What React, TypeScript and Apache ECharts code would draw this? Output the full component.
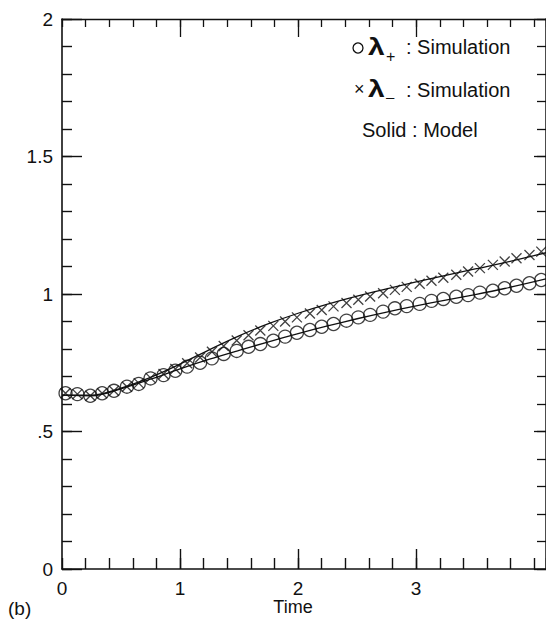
import React, { useEffect, useRef } from 'react';
import * as echarts from 'echarts';

// Simulation sample times
const timeSim = [0.03, 0.13, 0.24, 0.34, 0.44, 0.55, 0.65, 0.75, 0.86, 0.96, 1.06, 1.17, 1.27, 1.37, 1.48, 1.58, 1.68, 1.79, 1.89, 1.99, 2.10, 2.20, 2.30, 2.41, 2.51, 2.61, 2.72, 2.82, 2.92, 3.03, 3.13, 3.23, 3.34, 3.44, 3.54, 3.65, 3.75, 3.85, 3.96, 4.06];
// lambda+ simulation (circles)
const lamPlusSim = [0.639, 0.636, 0.630, 0.639, 0.648, 0.663, 0.673, 0.693, 0.705, 0.721, 0.736, 0.750, 0.766, 0.782, 0.793, 0.808, 0.818, 0.830, 0.845, 0.859, 0.869, 0.881, 0.891, 0.903, 0.915, 0.924, 0.936, 0.948, 0.956, 0.964, 0.975, 0.982, 0.990, 0.996, 1.005, 1.012, 1.021, 1.030, 1.039, 1.051];
// lambda- simulation (crosses)
const lamMinusSim = [0.639, 0.636, 0.630, 0.639, 0.648, 0.663, 0.676, 0.695, 0.709, 0.727, 0.748, 0.769, 0.790, 0.811, 0.831, 0.850, 0.867, 0.884, 0.900, 0.915, 0.929, 0.942, 0.955, 0.967, 0.979, 0.991, 1.003, 1.015, 1.026, 1.037, 1.048, 1.059, 1.070, 1.082, 1.094, 1.106, 1.118, 1.130, 1.142, 1.154];
// Model curves (solid)
const modelTime = [0, 0.25, 0.5, 0.75, 1.0, 1.25, 1.5, 1.75, 2.0, 2.25, 2.5, 2.75, 3.0, 3.25, 3.5, 3.75, 4.1];
const modelPlus = [0.632, 0.630, 0.655, 0.690, 0.728, 0.763, 0.795, 0.826, 0.856, 0.884, 0.910, 0.934, 0.957, 0.978, 0.998, 1.020, 1.055];
const modelMinus = [0.632, 0.632, 0.658, 0.697, 0.745, 0.798, 0.848, 0.892, 0.930, 0.963, 0.992, 1.019, 1.044, 1.068, 1.091, 1.114, 1.150];

// Axis ticks and labels
const xLabelValues = [0, 1, 2, 3];
const xMajorTicks = [1, 2, 3];
const yTickValues = [0, 0.5, 1, 1.5, 2];
const yTickLabels = ['0', '.5', '1', '1.5', '2'];

const FONT = 'Liberation Sans, Arial, Helvetica, sans-serif';
const INK = '#111';

export default function App() {
  const ref = useRef<HTMLDivElement>(null);
  useEffect(() => {
    const chart = echarts.init(ref.current!, null, { renderer: 'svg' });
    const pair = (xs: number[], ys: number[]) => xs.map((x, i) => [x, ys[i]]);
    const baseX = {
      type: 'value', min: 0, max: 4.1, splitLine: { show: false },
    };
    const baseY = {
      type: 'value', min: 0, max: 2, splitLine: { show: false },
    };
    const tickAxisY = (position: string, interval: number, length: number, showLine: boolean, width: number) => ({
      ...baseY, position, interval,
      axisLine: { show: showLine, onZero: false, lineStyle: { color: INK, width: 1.5 } },
      axisTick: { show: true, inside: true, length, lineStyle: { color: INK, width } },
      axisLabel: { show: false },
    });
    const option: any = {
      animation: false,
      backgroundColor: '#fff',
      grid: { left: 62, right: -2, top: 19, bottom: 52 },
      xAxis: [
        {
          ...baseX, position: 'bottom', interval: 0.2,
          axisLine: { show: true, onZero: false, lineStyle: { color: INK, width: 1.6 } },
          axisTick: { show: true, inside: true, length: 11, lineStyle: { color: INK, width: 1.4 } },
          axisLabel: {
            show: true, customValues: xLabelValues, margin: 10,
            color: INK, fontSize: 19, fontFamily: FONT,
            formatter: (v: number) => String(Math.round(v)),
          },
        },
        {
          ...baseX, position: 'bottom', interval: 1,
          axisLine: { show: false, onZero: false },
          axisTick: { show: true, inside: true, length: 20, customValues: xMajorTicks, lineStyle: { color: INK, width: 1.4 } },
          axisLabel: { show: false },
        },
        {
          ...baseX, position: 'top', interval: 0.2,
          axisLine: { show: true, onZero: false, lineStyle: { color: INK, width: 1.4 } },
          axisTick: { show: true, inside: true, length: 8, lineStyle: { color: INK, width: 1.3 } },
          axisLabel: { show: false },
        },
        {
          ...baseX, position: 'top', interval: 1,
          axisLine: { show: false, onZero: false },
          axisTick: { show: true, inside: true, length: 18, customValues: xMajorTicks, lineStyle: { color: INK, width: 1.3 } },
          axisLabel: { show: false },
        },
      ],
      yAxis: [
        {
          ...baseY, position: 'left', interval: 0.5,
          axisLine: { show: true, onZero: false, lineStyle: { color: INK, width: 1.6 } },
          axisTick: { show: true, inside: true, length: 20, lineStyle: { color: INK, width: 1.4 } },
          axisLabel: {
            show: true, margin: 9, color: INK, fontSize: 19, fontFamily: FONT,
            formatter: (v: number) => {
              const i = yTickValues.findIndex((t) => Math.abs(t - v) < 1e-6);
              return i >= 0 ? yTickLabels[i] : '';
            },
          },
        },
        tickAxisY('left', 0.1, 10, false, 1.4),
        tickAxisY('right', 0.1, 9, true, 1.3),
        tickAxisY('right', 0.5, 12, false, 1.3),
      ],
      series: [
        {
          name: 'model+', type: 'line', xAxisIndex: 0, yAxisIndex: 0,
          data: pair(modelTime, modelPlus), showSymbol: false, smooth: 0.3,
          lineStyle: { color: INK, width: 1.3 }, z: 2,
        },
        {
          name: 'model-', type: 'line', xAxisIndex: 0, yAxisIndex: 0,
          data: pair(modelTime, modelMinus), showSymbol: false, smooth: 0.3,
          lineStyle: { color: INK, width: 1.3 }, z: 2,
        },
        {
          name: 'lambda+ sim', type: 'scatter', xAxisIndex: 0, yAxisIndex: 0,
          data: pair(timeSim, lamPlusSim), symbol: 'circle', symbolSize: 13,
          itemStyle: { color: 'rgba(0,0,0,0)', borderColor: INK, borderWidth: 1.3 }, z: 3,
        },
        {
          name: 'lambda- sim', type: 'scatter', xAxisIndex: 0, yAxisIndex: 0,
          data: pair(timeSim, lamMinusSim), symbol: 'path://M0,0L10,10M10,0L0,10', symbolSize: 10,
          itemStyle: { color: 'rgba(0,0,0,0)', borderColor: INK, borderWidth: 1.3 }, z: 3,
        },
      ],
      graphic: [
        { type: 'circle', shape: { cx: 358, cy: 48, r: 5 }, style: { fill: 'none', stroke: INK, lineWidth: 1.3 } },
        { type: 'text', x: 368, y: 47, scaleX: 1.25, style: { text: 'λ', font: 'bold 24px ' + FONT, fill: INK, textVerticalAlign: 'middle' } },
        { type: 'text', x: 386, y: 56, style: { text: '+', font: '16px ' + FONT, fill: INK, textVerticalAlign: 'middle' } },
        { type: 'text', x: 406, y: 47, style: { text: ': Simulation', font: '20px ' + FONT, fill: INK, textVerticalAlign: 'middle' } },
        { type: 'text', x: 354, y: 89, style: { text: '×', font: '18px ' + FONT, fill: INK, textVerticalAlign: 'middle' } },
        { type: 'text', x: 368, y: 89, scaleX: 1.25, style: { text: 'λ', font: 'bold 24px ' + FONT, fill: INK, textVerticalAlign: 'middle' } },
        { type: 'text', x: 386, y: 96, style: { text: '–', font: '15px ' + FONT, fill: INK, textVerticalAlign: 'middle' } },
        { type: 'text', x: 406, y: 89.5, style: { text: ': Simulation', font: '20px ' + FONT, fill: INK, textVerticalAlign: 'middle' } },
        { type: 'text', x: 362, y: 130, style: { text: 'Solid : Model', font: '20px ' + FONT, fill: INK, textVerticalAlign: 'middle' } },
        { type: 'text', x: 293, y: 607, style: { text: 'Time', font: '18px ' + FONT, fill: INK, textAlign: 'center', textVerticalAlign: 'middle' } },
        { type: 'text', x: 8, y: 608, style: { text: '(b)', font: '19px ' + FONT, fill: INK, textVerticalAlign: 'middle' } },
      ],
    };
    chart.setOption(option);
    return () => chart.dispose();
  }, []);
  return (
    <div
      ref={ref}
      style={{ position: 'absolute', left: 0, top: 0, width: 546, height: 621, background: '#fff' }}
    />
  );
}
